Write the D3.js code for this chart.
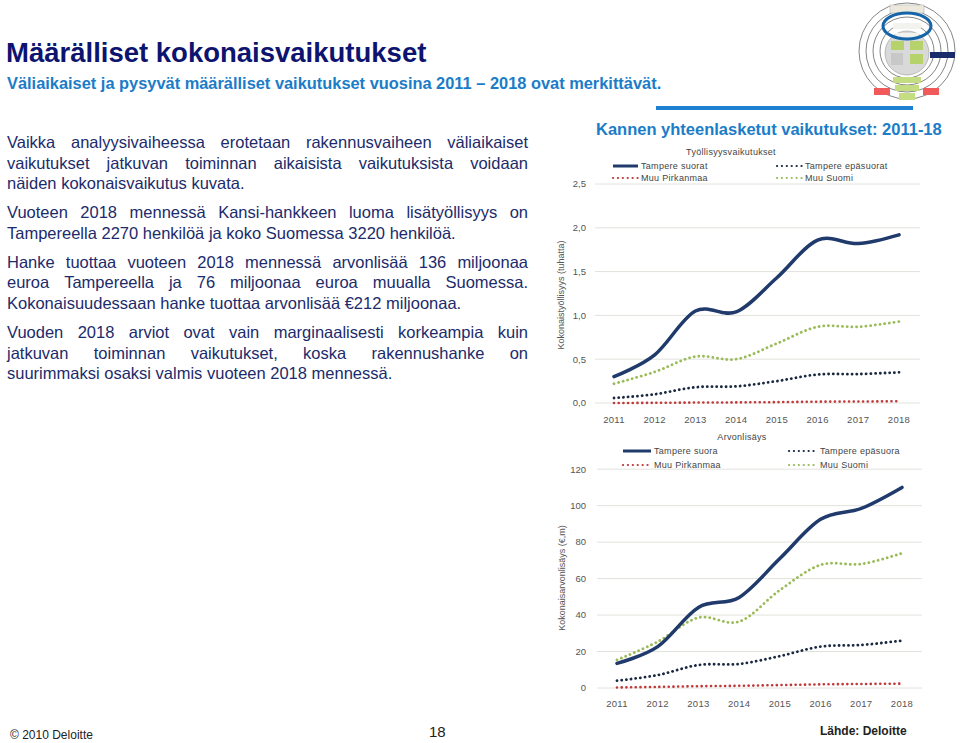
<!DOCTYPE html>
<html>
	<head>
		<title>Kokonaisvaikutukset</title>
		<style>
			body { margin: 0; background: #fff; }
			svg text { font-family: "Liberation Sans", Arial, sans-serif; }
		</style>
	</head>
	<body>
		<script src = "https://d3js.org/d3.v7.min.js"></script>
		<div id = "wrapper"></div>
	</body>
</html>

<script>
	// years on both charts
	var years = ["2011", "2012", "2013", "2014", "2015", "2016", "2017", "2018"];

	// employment (thousands)
	var jobsTampereDirect = [0.30, 0.55, 1.05, 1.04, 1.43, 1.86, 1.82, 1.92];
	var jobsTampereIndirect = [0.057, 0.10, 0.18, 0.19, 0.25, 0.325, 0.33, 0.35];
	var jobsPirkanmaa = [0.0, 0.002, 0.005, 0.007, 0.01, 0.015, 0.017, 0.02];
	var jobsFinland = [0.22, 0.355, 0.53, 0.50, 0.68, 0.87, 0.87, 0.93];
	var jobsTicks = [0, 0.5, 1.0, 1.5, 2.0, 2.5];

	// value added (EUR m)
	var valueTampereDirect = [13.5, 22.7, 44.2, 49.7, 71, 92.5, 98.5, 110];
	var valueTampereIndirect = [4, 7.1, 12.6, 13.2, 17.5, 22.7, 23.6, 26];
	var valuePirkanmaa = [0.3, 0.6, 1.0, 1.2, 1.6, 2.0, 2.2, 2.4];
	var valueFinland = [15.4, 25.4, 38.6, 36.4, 53.7, 67.5, 68, 73.9];
	var valueTicks = [0, 20, 40, 60, 80, 100, 120];

	var jobsNames = ["Tampere suorat", "Tampere epäsuorat", "Muu Pirkanmaa", "Muu Suomi"];
	var valueNames = ["Tampere suora", "Tampere epäsuora", "Muu Pirkanmaa", "Muu Suomi"];

	var paragraphs = [
		["Vaikka analyysivaiheessa erotetaan rakennusvaiheen väliaikaiset",
		 "vaikutukset jatkuvan toiminnan aikaisista vaikutuksista voidaan",
		 "näiden kokonaisvaikutus kuvata."],
		["Vuoteen 2018 mennessä Kansi-hankkeen luoma lisätyöllisyys on",
		 "Tampereella 2270 henkilöä ja koko Suomessa 3220 henkilöä."],
		["Hanke tuottaa vuoteen 2018 mennessä arvonlisää 136 miljoonaa",
		 "euroa Tampereella ja 76 miljoonaa euroa muualla Suomessa.",
		 "Kokonaisuudessaan hanke tuottaa arvonlisää €212 miljoonaa."],
		["Vuoden 2018 arviot ovat vain marginaalisesti korkeampia kuin",
		 "jatkuvan toiminnan vaikutukset, koska rakennushanke on",
		 "suurimmaksi osaksi valmis vuoteen 2018 mennessä."]
	];

	// series styles
	var styles = [
		{ color: "#1f3a6b", dash: null, width: 3.5 },
		{ color: "#1b2940", dash: "0.1,4.6", width: 2.8 },
		{ color: "#c0393b", dash: "0.1,4.6", width: 2.6 },
		{ color: "#9bbb59", dash: "0.1,4.6", width: 2.8 }
	];

	var w = 960;
	var h = 743;
	var svg = d3.select("#wrapper")
				.append("svg")
				.attr("width", w)
				.attr("height", h);

	// heading
	svg.append("text")
		.attr("x", 6)
		.attr("y", 62)
		.style("font-size", "27.5px")
		.style("font-weight", "bold")
		.style("fill", "#0c1470")
		.text("Määrälliset kokonaisvaikutukset");

	svg.append("text")
		.attr("x", 7)
		.attr("y", 89)
		.style("font-size", "16.4px")
		.style("font-weight", "bold")
		.style("fill", "#1b7cc8")
		.text("Väliaikaiset ja pysyvät määrälliset vaikutukset vuosina 2011 – 2018 ovat merkittävät.");

	svg.append("rect")
		.attr("x", 656)
		.attr("y", 106)
		.attr("width", 257)
		.attr("height", 4)
		.style("fill", "#1e80d0");

	// body text, justified line by line
	var textLeft = 7;
	var textRight = 528;
	var lineY = 148;
	paragraphs.forEach(function(lines) {
		lines.forEach(function(line, li) {
			var words = line.split(" ");
			var last = li == lines.length - 1;
			var t = svg.append("text")
						.attr("y", lineY)
						.style("font-size", "16.5px")
						.style("fill", "#1c2b6b");
			var spans = words.map(function(word) {
				return t.append("tspan").text(word);
			});
			var widths = spans.map(function(s) { return s.node().getComputedTextLength(); });
			var total = d3.sum(widths);
			var gap = last ? 4.6 : (textRight - textLeft - total) / (words.length - 1);
			var x = textLeft;
			spans.forEach(function(s, i) {
				s.attr("x", x);
				x += widths[i] + gap;
			});
			lineY += 20.6;
		});
		lineY += 8.4;
	});

	// one line chart
	function lineChart(opts) {
		var x = d3.scalePoint()
					.domain(years)
					.range(opts.xRange);
		var y = d3.scaleLinear()
					.domain([0, d3.max(opts.ticks)])
					.range(opts.yRange);

		svg.append("g")
			.selectAll("line")
			.data(opts.ticks)
			.enter()
			.append("line")
			.attr("x1", opts.gridX[0])
			.attr("x2", opts.gridX[1])
			.attr("y1", function(d) { return y(d); })
			.attr("y2", function(d) { return y(d); })
			.style("stroke", "#e2e2dc")
			.style("stroke-width", 1);

		svg.append("g")
			.selectAll("text")
			.data(opts.ticks)
			.enter()
			.append("text")
			.attr("x", 586)
			.attr("y", function(d) { return y(d); })
			.attr("dy", "0.35em")
			.attr("text-anchor", "end")
			.style("font-size", "9.5px")
			.style("fill", "#555")
			.text(opts.format);

		svg.append("g")
			.selectAll("text")
			.data(years)
			.enter()
			.append("text")
			.attr("x", function(d) { return x(d); })
			.attr("y", opts.yearY)
			.attr("text-anchor", "middle")
			.style("font-size", "9.5px")
			.style("letter-spacing", "0.3px")
			.style("fill", "#555")
			.text(function(d) { return d; });

		svg.append("text")
			.attr("transform", "translate(" + opts.axisLabelPos[0] + "," + opts.axisLabelPos[1] + ") rotate(-90)")
			.attr("text-anchor", "middle")
			.attr("dy", "0.35em")
			.style("font-size", "9px")
			.style("fill", "#555")
			.text(opts.axisLabel);

		var line = d3.line()
					.x(function(d, i) { return x(years[i]); })
					.y(function(d) { return y(d); })
					.curve(d3.curveCardinal.tension(0));

		// draw dotted series first, solid on top
		[2, 1, 3, 0].forEach(function(k) {
			svg.append("path")
				.attr("d", line(opts.series[k]))
				.style("fill", "none")
				.style("stroke", styles[k].color)
				.style("stroke-width", styles[k].width)
				.style("stroke-linecap", "round")
				.style("stroke-dasharray", styles[k].dash);
		});

		// legend
		svg.append("text")
			.attr("x", opts.legend.titleX)
			.attr("y", opts.legend.titleY)
			.attr("text-anchor", "middle")
			.style("font-size", "9px")
			.style("letter-spacing", "0.3px")
			.style("fill", "#444")
			.text(opts.legend.title);

		opts.names.forEach(function(name, k) {
			var col = (k == 1 || k == 3) ? 1 : 0;
			var row = k < 2 ? 0 : 1;
			var lx = opts.legend.cols[col];
			var ly = opts.legend.rows[row];
			svg.append("line")
				.attr("x1", lx)
				.attr("x2", lx + opts.legend.sample)
				.attr("y1", ly)
				.attr("y2", ly)
				.style("stroke", styles[k].color)
				.style("stroke-width", styles[k].dash ? 2.2 : 3)
				.style("stroke-linecap", styles[k].dash ? "round" : "butt")
				.style("stroke-dasharray", styles[k].dash ? "0.1,4.8" : null);
			svg.append("text")
				.attr("x", lx + opts.legend.sample + 3)
				.attr("y", ly)
				.attr("dy", "0.35em")
				.style("font-size", "9px")
				.style("letter-spacing", "0.3px")
				.style("fill", "#444")
				.text(name);
		});
	}

	// chart title
	svg.append("text")
		.attr("x", 596)
		.attr("y", 135)
		.style("font-size", "16.5px")
		.style("font-weight", "bold")
		.style("fill", "#1b7cc8")
		.text("Kannen yhteenlasketut vaikutukset: 2011-18");

	lineChart({
		series: [jobsTampereDirect, jobsTampereIndirect, jobsPirkanmaa, jobsFinland],
		names: jobsNames,
		ticks: jobsTicks,
		format: function(d) { return d3.format(".1f")(d).replace(".", ","); },
		xRange: [614, 899],
		yRange: [403, 184],
		gridX: [595, 920],
		yearY: 423,
		axisLabel: "Kokonaistyöllisyys (tuhatta)",
		axisLabelPos: [561, 295],
		legend: { title: "Työllisyysvaikutukset", titleX: 731, titleY: 155,
				  cols: [613, 777], rows: [166, 178], sample: 25 }
	});

	lineChart({
		series: [valueTampereDirect, valueTampereIndirect, valuePirkanmaa, valueFinland],
		names: valueNames,
		ticks: valueTicks,
		format: function(d) { return d; },
		xRange: [617, 902],
		yRange: [688, 469.2],
		gridX: [597, 922],
		yearY: 707,
		axisLabel: "Kokonaisarvonlisäys (€,m)",
		axisLabelPos: [562, 578],
		legend: { title: "Arvonlisäys", titleX: 742, titleY: 440,
				  cols: [623, 789], rows: [451, 465], sample: 28 }
	});

	// logo in the corner
	var logo = svg.append("g").attr("transform", "translate(907,51)");
	[48, 41, 34, 27].forEach(function(r) {
		logo.append("circle")
			.attr("r", r)
			.style("fill", "none")
			.style("stroke", "#666")
			.style("stroke-width", 0.8);
	});
	logo.append("circle")
		.attr("r", 22)
		.attr("cy", 2)
		.style("fill", "#d9d9d9")
		.style("stroke", "#999")
		.style("stroke-width", 0.6);
	logo.append("rect").attr("x", -17).attr("y", -46).attr("width", 34).attr("height", 8).style("fill", "#ece8dc").style("stroke", "#aaa").style("stroke-width", 0.5);
	logo.append("rect").attr("x", -14).attr("y", -28).attr("width", 28).attr("height", 6).style("fill", "#f2f2ee");
	logo.append("rect").attr("x", -12).attr("y", -18).attr("width", 24).attr("height", 5).style("fill", "#f2f2ee");
	logo.append("rect").attr("x", -16).attr("y", -10).attr("width", 13).attr("height", 9).style("fill", "#b5d36a");
	logo.append("rect").attr("x", 3).attr("y", -10).attr("width", 13).attr("height", 9).style("fill", "#b5d36a");
	logo.append("rect").attr("x", -16).attr("y", 2).attr("width", 12).attr("height", 12).style("fill", "#c8c8c8");
	logo.append("rect").attr("x", 3).attr("y", 3).attr("width", 13).attr("height", 10).style("fill", "#b5d36a");
	logo.append("rect").attr("x", -14).attr("y", 26).attr("width", 28).attr("height", 6).style("fill", "#c4dc82");
	logo.append("rect").attr("x", -12).attr("y", 34).attr("width", 24).attr("height", 6).style("fill", "#c4dc82");
	logo.append("rect").attr("x", -8).attr("y", 42).attr("width", 16).attr("height", 7).style("fill", "#c4dc82");
	logo.append("rect").attr("x", -33).attr("y", 37).attr("width", 16).attr("height", 7).style("fill", "#f05a5a");
	logo.append("rect").attr("x", 16).attr("y", 37).attr("width", 16).attr("height", 7).style("fill", "#f05a5a");
	logo.append("rect").attr("x", 23).attr("y", 1).attr("width", 25).attr("height", 6).style("fill", "#1b2a6b");
	logo.append("ellipse")
		.attr("cy", -25)
		.attr("rx", 24)
		.attr("ry", 13)
		.style("fill", "none")
		.style("stroke", "#1565a8")
		.style("stroke-width", 3);

	// footer
	svg.append("text")
		.attr("x", 10)
		.attr("y", 739)
		.style("font-size", "12px")
		.style("fill", "#222")
		.text("© 2010 Deloitte");
	svg.append("text")
		.attr("x", 429)
		.attr("y", 737)
		.style("font-size", "15px")
		.style("fill", "#222")
		.text("18");
	svg.append("text")
		.attr("x", 820)
		.attr("y", 735)
		.style("font-size", "12px")
		.style("font-weight", "bold")
		.style("fill", "#222")
		.text("Lähde: Deloitte");
</script>
